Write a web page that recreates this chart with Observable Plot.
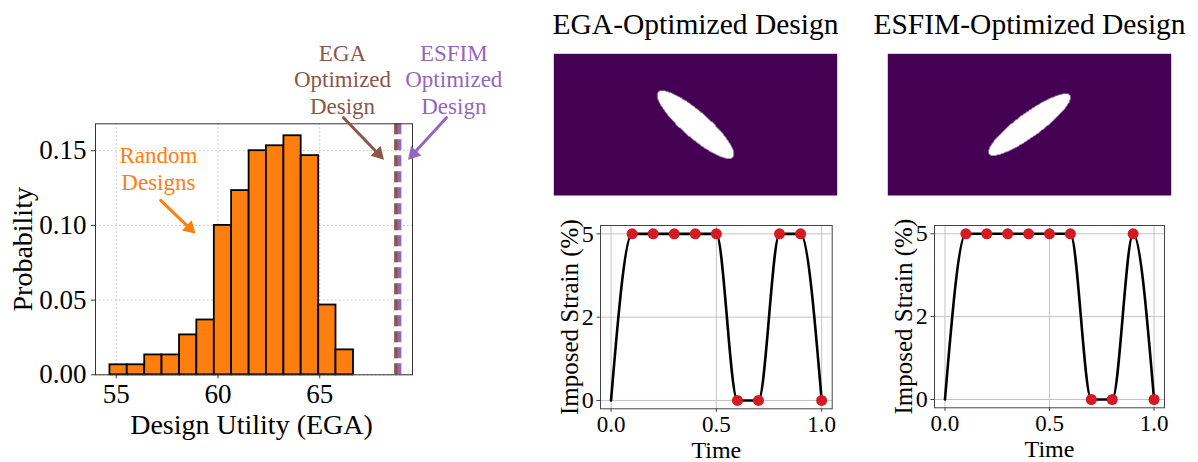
<!DOCTYPE html>
<html>
<head>
<meta charset="utf-8">
<script src="https://cdn.jsdelivr.net/npm/d3@7"></script>
<script src="https://cdn.jsdelivr.net/npm/@observablehq/plot@0.6"></script>
<style>
  html, body { margin: 0; padding: 0; background: #fff; }
  #root { position: relative; width: 1198px; height: 462px; overflow: hidden; }
</style>
</head>
<body>
<div id="root"></div>
<script>
// ---------------- DATA ----------------
// Histogram of random-design utilities (EGA)
const binEdges = [54.69, 55.54, 56.40, 57.25, 58.11, 58.96, 59.82, 60.67, 61.53, 62.38, 63.24, 64.09, 64.95, 65.80, 66.66];
const binProbability = [0.0067, 0.0067, 0.0133, 0.0133, 0.0267, 0.0367, 0.1000, 0.1233, 0.1500, 0.1533, 0.1600, 0.1467, 0.0467, 0.0167];
const egaOptimizedUtility = 68.75;
const esfimOptimizedUtility = 68.92;
const histXTicks = [55, 60, 65];
const histYTicks = [0, 0.05, 0.10, 0.15];

// Imposed strain protocols
const timePoints = [0.0, 0.1, 0.2, 0.3, 0.4, 0.5, 0.6, 0.7, 0.8, 0.9, 1.0];
const egaStrain = [0, 5, 5, 5, 5, 5, 0, 0, 5, 5, 0];
const esfimStrain = [0, 5, 5, 5, 5, 5, 5, 0, 0, 5, 0];
const timeTicks = [0, 0.5, 1.0];
const strainTicks = [0, 2.5, 5];
const strainTickLabels = ["0", "2", "5"];

// Design fields (elliptical hole in a 2 x 1 domain)
const designTitles = ["EGA-Optimized Design", "ESFIM-Optimized Design"];
const holeCenterX = [1.0, 1.0];
const holeCenterY = [0.5, 0.5];
const holeSemiMajor = [0.349, 0.352];
const holeSemiMinor = [0.092, 0.084];
const holeAngleDeg = [-41, 36];

// Annotations
const annotationTexts = ["Random\nDesigns", "EGA\nOptimized\nDesign", "ESFIM\nOptimized\nDesign"];
const annotationX = [57.07, 66.12, 71.59];
const annotationY = [0.1384, 0.198, 0.198];
const arrowX1 = [57.18, 66.17, 71.23];
const arrowY1 = [0.1167, 0.1721, 0.1721];
const arrowX2 = [58.90, 68.16, 69.34];
const arrowY2 = [0.0944, 0.1440, 0.1440];

// ---------------- STYLE ----------------
const FONT = '"Liberation Serif", "DejaVu Serif", serif';
const ORANGE = "#ff7f0e", BROWN = "#8c564b", PURPLE = "#9467bd", RED = "#d41a22";
const annotationColors = [ORANGE, BROWN, PURPLE];
const baseStyle = {fontFamily: FONT, color: "black", background: "transparent", overflow: "visible"};
const centered = {textAnchor: "middle", lineAnchor: "middle"};

const root = document.getElementById("root");
function place(node, left, top) {
  node.style.position = "absolute";
  node.style.left = left + "px";
  node.style.top = top + "px";
  node.style.maxWidth = "none";
  root.appendChild(node);
}

// ---------------- HISTOGRAM ----------------
{
  const W = 540, Hh = 462;
  const mL = 95, mR = 128, mT = 123.3, mB = 87.7;
  const xDom = [53.98, 69.56], yDom = [0, 0.168];
  const kx = (W - mL - mR) / (xDom[1] - xDom[0]);
  const ky = (Hh - mT - mB) / (yDom[1] - yDom[0]);
  const bins = binProbability.map((p, i) => ({x1: binEdges[i], x2: binEdges[i + 1], p}));

  const arrowMarks = [];
  arrowX1.forEach((_, i) => {
    const a = {x1: arrowX1[i], y1: arrowY1[i], x2: arrowX2[i], y2: arrowY2[i]};
    const sx = (a.x2 - a.x1) * kx, sy = -(a.y2 - a.y1) * ky;
    const len = Math.hypot(sx, sy), ux = sx / len, uy = sy / len;
    const r = 5.2, tip = 2 * 0.7776 * r;
    const rot = Math.atan2(ux, -uy) * 180 / Math.PI;
    arrowMarks.push(
      Plot.arrow([a], {x1: "x1", y1: "y1", x2: "x2", y2: "y2", stroke: annotationColors[i], strokeWidth: 3, headLength: 0, insetEnd: 9}),
      Plot.dot([a], {x: "x2", y: "y2", symbol: "triangle", r, rotate: rot, fill: annotationColors[i], stroke: "none", dx: -tip * ux, dy: -tip * uy})
    );
  });

  const hist = Plot.plot({
    width: W, height: Hh,
    marginLeft: mL, marginRight: mR, marginTop: mT, marginBottom: mB,
    x: {domain: xDom, axis: null},
    y: {domain: yDom, axis: null},
    style: baseStyle,
    marks: [
      Plot.gridX({ticks: histXTicks, stroke: "#b8b8b8", strokeOpacity: 1, strokeWidth: 0.9, strokeDasharray: "1.5,2.5"}),
      Plot.gridY({ticks: histYTicks, stroke: "#b8b8b8", strokeOpacity: 1, strokeWidth: 0.9, strokeDasharray: "1.5,2.5"}),
      Plot.rectY(bins, {x1: "x1", x2: "x2", y1: 0, y2: "p", fill: ORANGE, stroke: "black", strokeWidth: 1.8}),
      Plot.ruleX([esfimOptimizedUtility], {stroke: PURPLE, strokeWidth: 3.8, strokeDasharray: "11,5"}),
      Plot.ruleX([egaOptimizedUtility], {stroke: BROWN, strokeWidth: 3.8, strokeDasharray: "11,5"}),
      Plot.frame({stroke: "#333", strokeWidth: 1}),
      Plot.axisY({ticks: histYTicks, tickFormat: d3.format(".2f"), tickSize: 4, tickPadding: 5, fontSize: 27, label: null, stroke: "#333"}),
      Plot.axisX({ticks: histXTicks, tickSize: 4, tickPadding: 5, fontSize: 27, label: null, stroke: "#333"}),
      Plot.text(["Design Utility (EGA)"], {frameAnchor: "bottom", dy: 50, dx: -2.5, fontSize: 28, ...centered}),
      Plot.text(["Probability"], {frameAnchor: "left", rotate: -90, dx: -72.5, fontSize: 28, ...centered}),
      ...annotationTexts.map((t, i) =>
        Plot.text([t], {x: annotationX[i], y: annotationY[i], text: d => d, fill: annotationColors[i], fontSize: 23, lineHeight: 1.15, ...centered})
      ),
      ...arrowMarks
    ]
  });
  place(hist, 0, 0);
}

// ---------------- DESIGN FIELDS ----------------
function designField(k) {
  const th = holeAngleDeg[k] * Math.PI / 180, c = Math.cos(th), s = Math.sin(th);
  const a = holeSemiMajor[k], b = holeSemiMinor[k], cx = holeCenterX[k], cy = holeCenterY[k];
  return Plot.plot({
    width: 310, height: 205,
    marginLeft: 13.3, marginRight: 13.3, marginTop: 53.3, marginBottom: 10,
    x: {domain: [0, 2], axis: null},
    y: {domain: [0, 1], axis: null},
    color: {type: "linear", domain: [0, 1], scheme: "viridis"},
    style: baseStyle,
    marks: [
      Plot.raster({
        x1: 0, y1: 0, x2: 2, y2: 1, pixelSize: 0.5,
        fill: (x, y) => {
          const dx = x - cx, dy = y - cy;
          const u = dx * c + dy * s, v = -dx * s + dy * c;
          return (u * u) / (a * a) + (v * v) / (b * b) <= 1 ? NaN : 0;
        }
      }),
      Plot.text([designTitles[k]], {frameAnchor: "top", dy: -29.3, fontSize: 29.5, ...centered})
    ]
  });
}
place(designField(0), 540, 0);
place(designField(1), 874, 0);

// ---------------- STRAIN PROTOCOLS ----------------
function strainPlot(strain, mR, mB) {
  const rows = timePoints.map((t, i) => ({t, s: strain[i], i}));
  const gridStyle = {stroke: "#c4c4c4", strokeOpacity: 1, strokeWidth: 1};
  return Plot.plot({
    width: 320, height: 262,
    marginLeft: 70, marginRight: mR, marginTop: 25, marginBottom: mB,
    x: {domain: [-0.05, 1.05], axis: null},
    y: {domain: [-0.25, 5.25], axis: null},
    style: baseStyle,
    marks: [
      Plot.gridX({ticks: timeTicks, ...gridStyle}),
      Plot.gridY({ticks: strainTicks, ...gridStyle}),
      Plot.line(rows, {x: "t", y: "s", curve: "monotone-x", stroke: "black", strokeWidth: 2.6}),
      Plot.dot(rows.filter(d => d.i > 0), {x: "t", y: "s", r: 5.5, fill: RED, stroke: "none"}),
      Plot.frame({stroke: "#444", strokeWidth: 1}),
      Plot.axisX({ticks: timeTicks, tickFormat: d3.format(".1f"), tickSize: 3.5, tickPadding: 3.5, fontSize: 23, label: null, stroke: "#444"}),
      Plot.axisY({ticks: strainTicks, tickFormat: d => strainTickLabels[strainTicks.indexOf(d)], tickSize: 3.5, tickPadding: 3.2, fontSize: 24, label: null, stroke: "#444"}),
      Plot.text(["Time"], {frameAnchor: "bottom", dy: 41.5, fontSize: 24, ...centered}),
      Plot.text(["Imposed Strain (%)"], {frameAnchor: "left", rotate: -90, dx: -31, fontSize: 25, ...centered})
    ]
  });
}
place(strainPlot(egaStrain, 18.3, 53.7), 530, 200);
place(strainPlot(esfimStrain, 20, 54.7), 864, 200);
</script>
</body>
</html>
